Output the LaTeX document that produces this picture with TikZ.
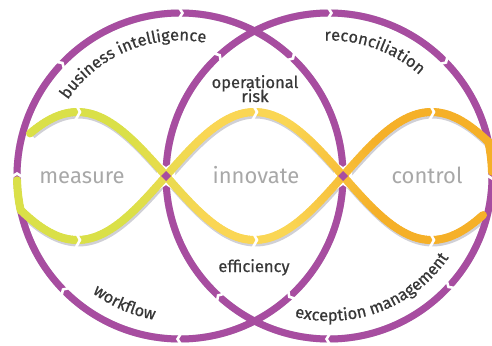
\documentclass[tikz,border=0pt]{standalone}
\usepackage{fontspec}
\setmainfont{Fira Sans}
\newfontfamily\lblfont{Fira Sans}[FakeBold=0.6]
\usetikzlibrary{decorations.text,calc}
\definecolor{purp}{RGB}{167,77,160}
\definecolor{cA}{RGB}{218,224,72}
\definecolor{cB}{RGB}{250,214,84}
\definecolor{cC}{RGB}{245,176,40}
\definecolor{graytxt}{RGB}{168,168,168}
\definecolor{lblc}{RGB}{55,55,55}
\definecolor{shad}{RGB}{208,208,214}
\tikzset{
  circline/.style={draw=purp, line width=7},
  shadline/.style={draw=shad, line width=7},
  shadwave/.style={draw=shad, line width=8},
  waveseg/.style={line width=8, line cap=round},
  gapline/.style={draw=white, line width=2.6, line join=miter},
  bigword/.style={font=\fontsize{22}{22}\selectfont, text=graytxt, anchor=base, inner sep=0},
  lbl/.style={font=\lblfont\fontsize{16.5}{16.5}\selectfont, text=lblc, anchor=base, inner sep=0},
}
\newcommand\cgap[4]{%
  \draw[gapline] ({#1+(#3+8)*cos(#4)-2.5*sin(#4)}, {#2-(#3+8)*sin(#4)-2.5*cos(#4)})
    -- ({#1+#3*cos(#4)+2.5*sin(#4)}, {#2-#3*sin(#4)+2.5*cos(#4)})
    -- ({#1+(#3-8)*cos(#4)-2.5*sin(#4)}, {#2-(#3-8)*sin(#4)-2.5*cos(#4)});}
\newcommand\wgap[2]{\draw[gapline] (#1-2.5,#2-9) -- (#1+2.5,#2) -- (#1-2.5,#2+9);}
\newcommand\xcut[2]{\fill[white] (#1-9,#2-15) -- (#1,#2-9) -- (#1+9,#2-15) -- (#1+9,#2+15) -- (#1,#2+9) -- (#1-9,#2+15) -- cycle;}
\begin{document}
\begin{tikzpicture}[x=1pt,y=-1pt]
\fill[white] (0,0) rectangle (492,345);
\useasboundingbox (0,0) rectangle (492,345);
\coordinate (L) at (180,176);
\coordinate (R) at (329,176);
% shadows
\begin{scope}[shift={(1,2.5)}]
  \draw[shadline] (L) circle[radius=163];
  \draw[shadline] (R) circle[radius=163];
  \foreach \s/\xs/\xe in {1/31/488,-1/22/479}
    \draw[shadwave] plot[domain=\xs:\xe, samples=120, smooth] ({\x},{176+\s*64*sin((\x-166)/177*180)});
\end{scope}
% circles
\draw[circline] (L) circle[radius=163];
\draw[circline] (R) circle[radius=163];
\foreach \p in {47,90,137,180,225,270,313} {\cgap{180}{176}{163}{\p}}
\foreach \p in {0,45,90,133,228,270,318} {\cgap{329}{176}{163}{\p}}
\xcut{166}{176}
\xcut{343}{176}
% wave
\draw[waveseg, cA] plot[domain=181.5:192.2, samples=12] ({180+163*cos(\x)},{176-163*sin(\x)});
\draw[waveseg, cC] plot[domain=1.5:12.2, samples=12] ({329+163*cos(\x)},{176-163*sin(\x)});
\foreach \s/\xs/\n in {1/30/153,-1/21/153} {
  \foreach \i in {0,...,\n} {
    \pgfmathsetmacro\xa{\xs+3*\i}
    \pgfmathsetmacro\xb{\xa+3}
    \pgfmathsetmacro\ya{176+\s*64*sin((\xa-166)/177*180)}
    \pgfmathsetmacro\yb{176+\s*64*sin((\xb-166)/177*180)}
    \pgfmathtruncatemacro\tA{min(max((\xa+1.5-130)/80,0),1)*100}
    \pgfmathtruncatemacro\tB{min(max((\xa+1.5-290)/90,0),1)*100}
    \colorlet{wc1}{cB!\tA!cA}
    \colorlet{wc}{cC!\tB!wc1}
    \draw[waveseg, wc] (\xa,\ya) -- (\xb,\yb);
  }
}
\foreach \x in {77.5,254.5,431.5} {\wgap{\x}{112}\wgap{\x}{240}}
% diamonds
\fill[purp] (161,176) -- (166,171) -- (171,176) -- (166,181) -- cycle;
\fill[purp] (338,176) -- (343,171) -- (348,176) -- (343,181) -- cycle;
% big words
\node[bigword] (meas) at (82,183) {measure};
\node[bigword] (inno) at (256,183) {innovate};
\node[bigword] (ctrl) at (427,183) {control};
% labels
\node[lbl] (op1) at (255,88) {operational};
\node[lbl] (op2) at (255,102) {risk};
\node[lbl] (eff) at (254,272) {efficiency};
% curved labels (arcs with explicit pt radius use visual angles)
\path[decorate, decoration={text along path, text align=center,
  text={|\lblfont\fontsize{16.5}{16.5}\selectfont\color{lblc}|business intelligence}}]
  ({180+135.5*cos(172.5)},{176-135.5*sin(172.5)}) arc[start angle=172.5, end angle=52.5, radius=135.5pt];
\path[decorate, decoration={text along path, text align=center,
  text={|\lblfont\fontsize{16.5}{16.5}\selectfont\color{lblc}|reconciliation}}]
  ({329+135.5*cos(130)},{176-135.5*sin(130)}) arc[start angle=130, end angle=10, radius=135.5pt];
\path[decorate, decoration={text along path, text align=center,
  text={|\lblfont\fontsize{16.5}{16.5}\selectfont\color{lblc}|workflow}}]
  ({180+146*cos(201.5)},{176-146*sin(201.5)}) arc[start angle=201.5, end angle=291.5, radius=146pt];
\path[decorate, decoration={text along path, text align=center,
  text={|\lblfont\fontsize{16.5}{16.5}\selectfont\color{lblc}|exception management}}]
  ({329+145*cos(231)},{176-145*sin(231)}) arc[start angle=231, end angle=351, radius=145pt];
\end{tikzpicture}
\end{document}
